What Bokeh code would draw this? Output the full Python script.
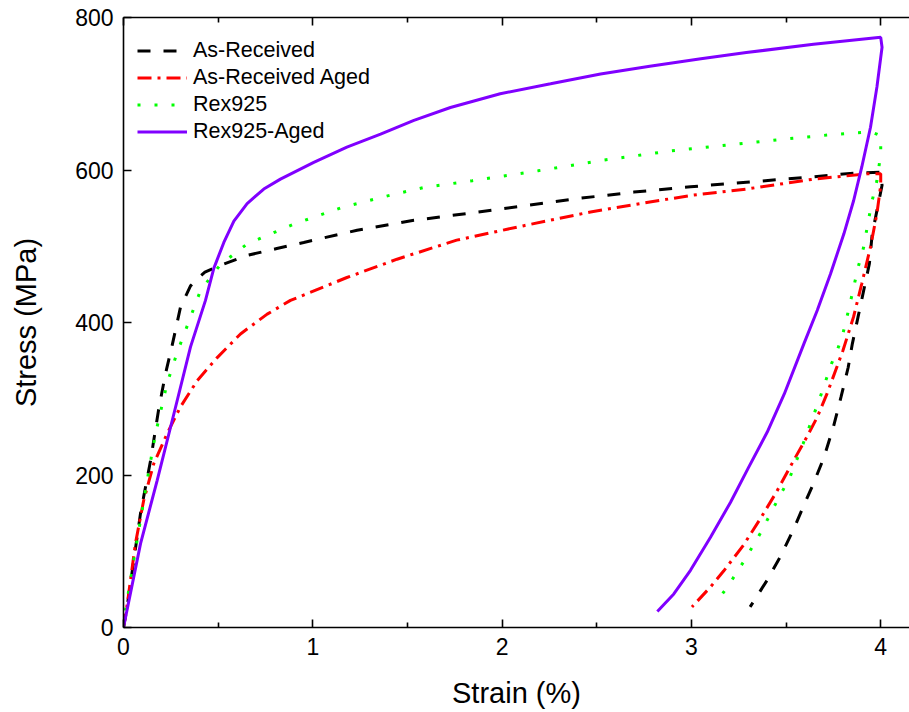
from bokeh.plotting import figure
from bokeh.models import LinearAxis, FixedTicker, Legend, LegendItem, Range1d
from bokeh.embed import file_html
from bokeh.resources import INLINE

# Stress-strain loops: loading to 4 % strain, then unloading
as_received_strain = [0, 0.019, 0.09, 0.143, 0.185, 0.222, 0.257, 0.301, 0.354, 0.389, 0.43, 0.512,
                      0.653, 0.81, 0.952, 1.234, 1.534, 1.815, 2.115, 2.415, 2.696, 2.995, 3.29,
                      3.645, 3.86, 4.0,
                      4.007, 3.955, 3.94, 3.91, 3.88, 3.85, 3.828, 3.79, 3.75, 3.70, 3.645, 3.59,
                      3.54, 3.47, 3.40, 3.31]
as_received_stress = [0, 27, 150, 219, 285, 333, 370, 420, 448, 457, 466, 475,
                      488, 497, 505, 521, 534, 543, 553, 563, 571, 578, 584,
                      591, 596, 597,
                      580, 516, 477, 442, 407, 372, 341, 302, 263, 223, 189, 158,
                      129, 93, 62, 27]

as_received_aged_strain = [0, 0.02, 0.063, 0.106, 0.16, 0.23, 0.30, 0.39, 0.495, 0.618, 0.759, 0.882,
                           1.18, 1.445, 1.76, 2.115, 2.467, 2.78, 3.01, 3.29, 3.645, 3.93, 4.0,
                           4.0, 3.98, 3.946, 3.90, 3.856, 3.80, 3.717, 3.665, 3.61, 3.54, 3.45, 3.365,
                           3.275, 3.17, 3.10, 3.003]
as_received_aged_stress = [0, 31, 110, 166, 215, 254, 289, 324, 354, 385, 411, 429,
                           459, 483, 508, 527, 545, 558, 567, 575, 588, 595, 595,
                           580, 543, 499, 451, 407, 363, 307, 276, 250, 219, 178, 143,
                           108, 74, 53, 27]

rex925_strain = [0, 0.01, 0.054, 0.125, 0.169, 0.23, 0.284, 0.354, 0.407, 0.512, 0.653, 0.90,
                 1.155, 1.41, 1.586, 1.843, 2.19, 2.537, 2.89, 3.24, 3.51, 3.77, 3.95, 4.0,
                 4.0, 3.98, 3.955, 3.935, 3.91, 3.88, 3.857, 3.83, 3.80, 3.77, 3.74, 3.68,
                 3.59, 3.52, 3.44, 3.365, 3.28, 3.19, 3.13]
rex925_stress = [0, 22, 88, 193, 254, 320, 361, 407, 442, 476, 503, 529,
                 551, 567, 577, 586, 599, 613, 625, 634, 641, 647, 650, 645,
                 621, 586, 560, 534, 499, 472, 446, 416, 385, 363, 346, 302,
                 241, 197, 160, 124, 88, 53, 33]

rex925_aged_strain = [0, 0.09, 0.178, 0.266, 0.354, 0.433, 0.477, 0.53, 0.583, 0.653, 0.741, 0.829,
                      1.005, 1.18, 1.358, 1.534, 1.727, 1.99, 2.256, 2.52, 2.78, 3.05, 3.29,
                      3.645, 4.0,
                      4.007, 3.98, 3.946, 3.90, 3.857, 3.805, 3.735, 3.665, 3.594, 3.49,
                      3.40, 3.30, 3.206, 3.10, 2.995, 2.907, 2.82]
rex925_aged_stress = [0, 110, 193, 280, 368, 429, 471, 505, 533, 556, 575, 588,
                      610, 630, 647, 665, 682, 700, 713, 726, 736, 746, 754,
                      765, 774,
                      761, 709, 656, 604, 560, 516, 464, 416, 372, 306,
                      256, 209, 164, 118, 75, 44, 21]

x_major = [0, 1, 2, 3, 4]
x_minor = [0.5, 1.5, 2.5, 3.5]
y_major = [0, 200, 400, 600, 800]

FONT = "Liberation Sans"

p = figure(width=909, height=712, frame_width=786, frame_height=610,
           min_border_left=123, min_border_right=0, min_border_top=17, min_border_bottom=85,
           x_range=Range1d(0, 4.152), y_range=Range1d(0, 800),
           output_backend="svg", toolbar_location=None,
           x_axis_label="Strain (%)", y_axis_label="Stress (MPa)")
p.outline_line_color = None
p.grid.visible = False
p.background_fill_color = "white"
p.border_fill_color = "white"

xt = FixedTicker(ticks=x_major, minor_ticks=x_minor)
yt = FixedTicker(ticks=y_major, minor_ticks=[])

for ax in (p.xaxis[0], p.yaxis[0]):
    ax.axis_line_width = 1.6
    ax.axis_line_color = "black"
    ax.major_tick_in = 8
    ax.major_tick_out = 0
    ax.major_tick_line_width = 1.6
    ax.minor_tick_in = 5
    ax.minor_tick_out = 0
    ax.minor_tick_line_width = 1.6
    ax.major_label_text_font = FONT
    ax.major_label_text_font_size = "23px"
    ax.major_label_text_color = "black"
    ax.axis_label_text_font = FONT
    ax.axis_label_text_font_size = "29px"
    ax.axis_label_text_font_style = "normal"
    ax.axis_label_text_color = "black"

p.xaxis[0].ticker = xt
p.yaxis[0].ticker = yt
p.xaxis[0].major_label_standoff = 10
p.xaxis[0].axis_label_standoff = 19
p.yaxis[0].major_label_standoff = 10
p.yaxis[0].axis_label_standoff = 30

# top frame edge with inward ticks, no labels
top = LinearAxis(ticker=xt, major_label_text_font_size="1px",
                 major_label_text_color=None,
                 axis_line_width=1.6, major_tick_in=8, major_tick_out=0,
                 major_tick_line_width=1.6, minor_tick_in=5, minor_tick_out=0,
                 minor_tick_line_width=1.6, major_label_standoff=0)
p.add_layout(top, "above")

r1 = p.line(as_received_strain, as_received_stress, line_color="black",
            line_width=3, line_dash="13 13")
r2 = p.line(as_received_aged_strain, as_received_aged_stress, line_color="#ff0000",
            line_width=3, line_dash="14 6 3 6")
r3 = p.line(rex925_strain, rex925_stress, line_color="#00ff00",
            line_width=3, line_dash="3 14")
r4 = p.line(rex925_aged_strain, rex925_aged_stress, line_color="#8000ff",
            line_width=3)

legend = Legend(items=[LegendItem(label="As-Received", renderers=[r1]),
                       LegendItem(label="As-Received Aged", renderers=[r2]),
                       LegendItem(label="Rex925", renderers=[r3]),
                       LegendItem(label="Rex925-Aged", renderers=[r4])],
                location=(14, 482), margin=0, padding=0, spacing=0,
                glyph_width=50, glyph_height=27, label_height=27,
                label_standoff=6, label_text_font=FONT,
                label_text_font_size="21.5px", label_text_color="black",
                background_fill_alpha=0, border_line_color=None)
p.add_layout(legend, "center")

open("out.html", "w").write(file_html(p, INLINE))
